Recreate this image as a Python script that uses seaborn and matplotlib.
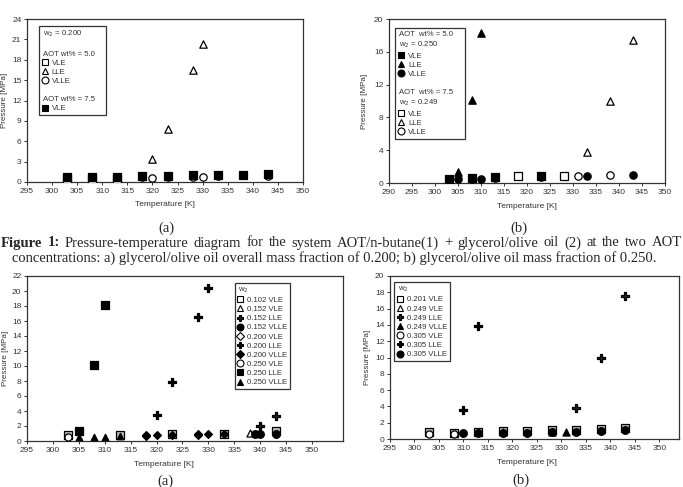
import matplotlib
matplotlib.use("Agg")
import matplotlib.pyplot as plt
import seaborn as sns
from matplotlib.lines import Line2D

sns.set_theme(style="white")
plt.rcParams['font.family'] = ['Liberation Sans', 'DejaVu Sans']

# ---- panel (a) top-left : w2 = 0.200 ----
a_vle50_T = [303, 308, 313]
a_vle50_P = [0.5, 0.4, 0.4]
a_lle50_T = [320, 323, 328, 330]
a_lle50_P = [3.4, 7.8, 16.5, 20.3]
a_vlle50_T = [318, 320, 323, 328, 330, 333, 343]
a_vlle50_P = [0.7, 0.6, 0.7, 0.8, 0.8, 0.9, 0.9]
a_vle75_T = [303, 308, 313, 318, 323, 328, 333, 338, 343]
a_vle75_P = [0.75, 0.8, 0.8, 0.9, 0.9, 1.0, 1.1, 1.1, 1.25]

# ---- panel (b) top-right : w2 = 0.250 / 0.249 ----
b_vle50_T = [303, 308, 313, 323]
b_vle50_P = [0.5, 0.6, 0.7, 0.8]
b_lle50_T = [305, 308, 310]
b_lle50_P = [1.35, 10.1, 18.3]
b_vlle50_T = [305, 308, 310, 313, 323, 333, 343]
b_vlle50_P = [0.5, 0.5, 0.5, 0.6, 0.7, 0.8, 1.0]
b_vle75_T = [318, 328]
b_vle75_P = [0.8, 0.85]
b_lle75_T = [333, 338, 343]
b_lle75_P = [3.8, 9.95, 17.5]
b_vlle75_T = [331, 338]
b_vlle75_P = [0.9, 0.95]

# ---- panel (c) bottom-left : AOT 5.0 wt% ----
c_102vle_T = [303, 313, 323, 333, 343]
c_102vle_P = [0.75, 0.8, 1.0, 1.0, 1.3]
c_152vle_T = [338]
c_152vle_P = [1.1]
c_152lle_T = [340, 343]
c_152lle_P = [2.0, 3.3]
c_152vlle_T = [339, 340, 343]
c_152vlle_P = [1.0, 1.0, 1.0]
c_200vle_T = [318, 328]
c_200vle_P = [0.7, 0.8]
c_200lle_T = [320, 323, 328, 330]
c_200lle_P = [3.5, 7.9, 16.5, 20.4]
c_200vlle_T = [318, 320, 323, 328, 330, 333, 343]
c_200vlle_P = [0.8, 0.8, 0.75, 0.9, 0.9, 0.9, 1.0]
c_250vle_T = [303]
c_250vle_P = [0.5]
c_250lle_T = [305, 308, 310]
c_250lle_P = [1.4, 10.1, 18.1]
c_250vlle_T = [305, 308, 310, 313]
c_250vlle_P = [0.5, 0.6, 0.6, 0.7]

# ---- panel (d) bottom-right : AOT 7.5 wt% ----
d_201vle_T = [303, 308, 313, 318, 323, 328, 333, 338, 343]
d_201vle_P = [0.8, 0.75, 0.9, 1.0, 0.95, 1.05, 1.15, 1.25, 1.4]
d_249vle_T = [318, 328]
d_249vle_P = [0.8, 0.85]
d_249lle_T = [333, 338, 343]
d_249lle_P = [3.8, 9.9, 17.5]
d_249vlle_T = [331]
d_249vlle_P = [0.9]
d_305vle_T = [303, 308]
d_305vle_P = [0.6, 0.65]
d_305lle_T = [310, 313]
d_305lle_P = [3.6, 13.9]
d_305vlle_T = [310, 313, 318, 323, 328, 333, 338, 343]
d_305vlle_P = [0.7, 0.75, 0.75, 0.75, 0.85, 0.9, 1.0, 1.05]

caption1 = ('Pressure-temperature diagram for the system AOT/n-butane(1) + '
            'glycerol/olive oil (2) at the two AOT')
caption2 = ('concentrations: a) glycerol/olive oil overall mass fraction of '
            '0.200; b) glycerol/olive oil mass fraction of 0.250.')

W, H = 683, 487
fig = plt.figure(figsize=(W / 100, H / 100), dpi=100)


def axes_px(l, t, r, b):
    return fig.add_axes([l / W, 1 - b / H, (r - l) / W, (b - t) / H])


def pts(ax, xs, ys, marker, filled, s=28, face=None):
    fc = face if face is not None else ('black' if filled else 'white')
    sns.scatterplot(x=xs, y=ys, ax=ax, marker=marker, s=s, color=fc,
                    edgecolor='black', linewidth=0.9, legend=False, zorder=3)


def h(marker, filled, ms=5, face=None):
    fc = face if face is not None else ('black' if filled else 'white')
    return Line2D([], [], ls='none', marker=marker, ms=ms, mfc=fc,
                  mec='black', mew=0.8)


blank = Line2D([], [], ls='none')


def style(ax, xlim, xticks, ylim, yticks, ylab_x):
    ax.set_xlim(*xlim)
    ax.set_ylim(*ylim)
    ax.set_xticks(xticks)
    ax.set_yticks(yticks)
    for sp in ax.spines.values():
        sp.set_color('#333333')
        sp.set_linewidth(0.9)
    ax.tick_params(labelsize=6, colors='#333333', length=2, width=0.7,
                   direction='out', bottom=True, left=True, pad=2)
    ax.set_xlabel('Temperature [K]', fontsize=6, color='#333333', labelpad=5)
    ax.set_ylabel('Pressure [MPa]', fontsize=5.8, color='#333333')
    ax.yaxis.set_label_coords(ylab_x, 0.5)


FS = 5.6
HL, HP = 0.8, 0.5


def legend(ax, handles, labels, anchor, headers=()):
    lg = ax.legend(handles, labels, loc='upper left', bbox_to_anchor=anchor,
                   borderaxespad=0, fontsize=FS, labelspacing=0.22,
                   handlelength=HL, handletextpad=HP, borderpad=0.35,
                   fancybox=False, frameon=True, edgecolor='#333333',
                   framealpha=1)
    lg.get_frame().set_linewidth(0.9)
    shift = (HL + HP) * FS * 100 / 72 - 1
    for i, t in enumerate(lg.get_texts()):
        t.set_color('#333333')
        if i in headers:
            t.set_position((-shift, 0))
    return lg


# (a)
ax = axes_px(27, 19, 303, 182)
pts(ax, a_vle50_T, a_vle50_P, 's', False)
pts(ax, a_vlle50_T, a_vlle50_P, 'o', False)
pts(ax, a_lle50_T, a_lle50_P, '^', False)
pts(ax, a_vle75_T, a_vle75_P, 's', True)
style(ax, (295, 350), range(295, 351, 5), (0, 24), range(0, 25, 3), -0.068)
legend(ax,
       [blank, blank, blank, h('s', False), h('^', False), h('o', False),
        blank, blank, h('s', True)],
       ['w$_2$ = 0.200', '', 'AOT wt% = 5.0', 'VLE', 'LLE', 'VLLE', '',
        'AOT wt% = 7.5', 'VLE'],
       (0.043, 0.957), headers=(0, 2, 7))

# (b)
ax = axes_px(389, 19, 665, 183)
pts(ax, b_vle75_T, b_vle75_P, 's', False)
pts(ax, b_vlle75_T, b_vlle75_P, 'o', False)
pts(ax, b_lle75_T, b_lle75_P, '^', False)
pts(ax, b_vle50_T, b_vle50_P, 's', True)
pts(ax, b_vlle50_T, b_vlle50_P, 'o', True)
pts(ax, b_lle50_T, b_lle50_P, '^', True)
style(ax, (290, 350), range(290, 351, 5), (0, 20), range(0, 21, 4), -0.076)
legend(ax,
       [blank, blank, h('s', True), h('^', True), h('o', True), blank,
        blank, blank, h('s', False), h('^', False), h('o', False)],
       ['AOT  wt% = 5.0', 'w$_2$ = 0.250', 'VLE', 'LLE', 'VLLE', '',
        'AOT  wt% = 7.5', 'w$_2$ = 0.249', 'VLE', 'LLE', 'VLLE'],
       (0.022, 0.945), headers=(0, 1, 6, 7))

# (c)
ax = axes_px(27, 276, 343, 441)
pts(ax, c_102vle_T, c_102vle_P, 's', False, s=26, face='#bbbbbb')
pts(ax, c_152vle_T, c_152vle_P, '^', False, s=26)
pts(ax, c_200vle_T, c_200vle_P, 'D', False, s=16)
pts(ax, c_250vle_T, c_250vle_P, 'o', False, s=26)
pts(ax, c_152vlle_T, c_152vlle_P, 'o', True, s=30)
pts(ax, c_200vlle_T, c_200vlle_P, 'D', True, s=16)
pts(ax, c_250vlle_T, c_250vlle_P, '^', True, s=22)
pts(ax, c_250lle_T, c_250lle_P, 's', True, s=34)
pts(ax, c_152lle_T, c_152lle_P, 'P', True, s=34, face='#222222')
pts(ax, c_200lle_T, c_200lle_P, 'P', True, s=34)
style(ax, (295, 356), range(295, 351, 5), (0, 22), range(0, 23, 2), -0.058)
ax.xaxis.set_label_coords(0.434, -0.12)
legend(ax,
       [blank, h('s', False), h('^', False), h('P', True, face='#222222'),
        h('o', True), h('D', False, ms=4), h('P', True), h('D', True, ms=4),
        h('o', False), h('s', True), h('^', True)],
       ['w$_2$', '0.102 VLE', '0.152 VLE', '0.152 LLE', '0.152 VLLE',
        '0.200 VLE', '0.200 LLE', '0.200 VLLE', '0.250 VLE', '0.250 LLE',
        '0.250 VLLE'],
       (0.657, 0.96), headers=(0,))

# (d)
ax = axes_px(390, 276, 679, 439)
pts(ax, d_201vle_T, d_201vle_P, 's', False, s=26, face='#bbbbbb')
pts(ax, d_249vle_T, d_249vle_P, '^', False, s=26)
pts(ax, d_305vle_T, d_305vle_P, 'o', False, s=26)
pts(ax, d_305vlle_T, d_305vlle_P, 'o', True, s=30)
pts(ax, d_249vlle_T, d_249vlle_P, '^', True, s=26)
pts(ax, d_249lle_T, d_249lle_P, 'P', True, s=34, face='#222222')
pts(ax, d_305lle_T, d_305lle_P, 'P', True, s=34)
style(ax, (295, 354), range(295, 351, 5), (0, 20), range(0, 21, 2), -0.065)
ax.xaxis.set_label_coords(0.474, -0.12)
legend(ax,
       [blank, h('s', False), h('^', False), h('P', True, face='#222222'),
        h('^', True), h('o', False), h('P', True), h('o', True)],
       ['w$_2$', '0.201 VLE', '0.249 VLE', '0.249 LLE', '0.249 VLLE',
        '0.305 VLE', '0.305 LLE', '0.305 VLLE'],
       (0.014, 0.963), headers=(0,))

# panel letters
serif = ['Liberation Serif', 'DejaVu Serif']
CFS = 10.5
for x, y, lab in [(166, 228, '(a)'), (519, 228, '(b)'),
                  (165, 481, '(a)'), (521, 480, '(b)')]:
    fig.text(x / W, 1 - y / H, lab, ha='center', va='center', fontsize=CFS,
             family=serif)

# caption: first line justified across the page, second centered
fig.canvas.draw()
r = fig.canvas.get_renderer()
words = [('Figure', 'bold'), ('1:', 'bold')] + \
        [(w, 'normal') for w in caption1.split(' ')]
objs = [fig.text(0, 1 - 243 / H, w, ha='left', va='center', fontsize=CFS,
                 fontweight=wt, family=serif) for w, wt in words]
widths = [o.get_window_extent(r).width for o in objs]
left, right = 1.0, 682.0
gap = (right - left - sum(widths)) / (len(objs) - 1)
x = left
for o, wd in zip(objs, widths):
    o.set_x(x / W)
    x += wd + gap
fig.text(334 / W, 1 - 258 / H, caption2, ha='center', va='center',
         fontsize=CFS, family=serif)

fig.savefig('out.png', dpi=100)
